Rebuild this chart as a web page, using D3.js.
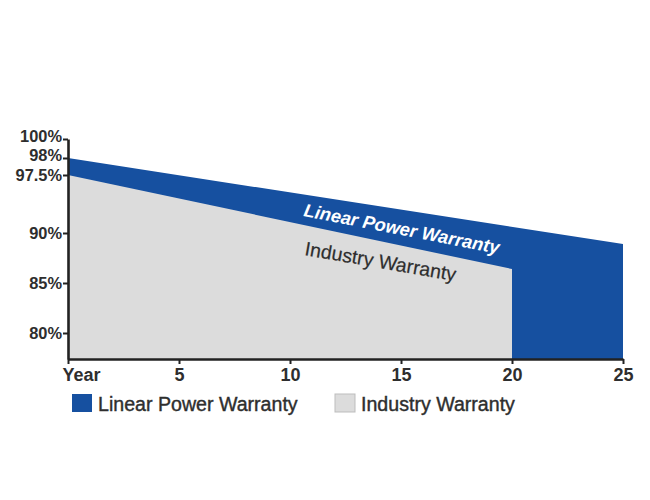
<!DOCTYPE html>
<html>
<head>
<meta charset="utf-8">
<script src="https://cdn.jsdelivr.net/npm/d3@7"></script>
<style>
  html, body { margin: 0; padding: 0; background: #fff; }
  svg { display: block; }
</style>
</head>
<body>
<svg id="chart" width="650" height="500"></svg>
<script>
// ---- data ----
const linearYears = [0, 25];
const linearValues = [98, 88.9];
const industryYears = [0, 20];
const industryValues = [97.5, 86.4];
const yTickValues = [100, 98, 97.5, 90, 85, 80];
const yTickLabels = ["100%", "98%", "97.5%", "90%", "85%", "80%"];
const xTickValues = [0, 5, 10, 15, 20, 25];
const xTickLabels = ["Year", "5", "10", "15", "20", "25"];
const seriesNames = ["Linear Power Warranty", "Industry Warranty"];

// ---- styles ----
const BLUE = "#1650a0";
const GRAY = "#dcdcdc";
const INK = "#2e2e2e";
const FONT = "'Liberation Sans', Arial, sans-serif";

const svg = d3.select("#chart");

// infographic-style y scale: spread at the top for the labels
const y = d3.scaleLinear()
  .domain([77.4, 90, 97.5, 98, 100])
  .range([359, 233, 175, 158, 139]);
const x = d3.scaleLinear().domain([0, 25]).range([68, 623]);

const area = d3.area()
  .x(d => x(d[0]))
  .y0(y(77.4))
  .y1(d => y(d[1]));

const linearData = linearYears.map((yr, i) => [yr, linearValues[i]]);
const industryData = industryYears.map((yr, i) => [yr, industryValues[i]]);

svg.append("path").datum(linearData).attr("d", area).attr("fill", BLUE);
svg.append("path").datum(industryData).attr("d", area).attr("fill", GRAY);

// y axis
const yLabelShift = [-2.5, -3, 0, 0, 0, 0];
const yAxis = svg.append("g")
  .attr("transform", `translate(${x(0)},0)`)
  .call(d3.axisLeft(y).tickValues(yTickValues)
    .tickFormat((d, i) => yTickLabels[i])
    .tickSize(5).tickSizeOuter(0).tickPadding(1));
yAxis.select(".domain").attr("stroke", "#222").attr("stroke-width", 2.6);
yAxis.selectAll(".tick line").attr("stroke", "#222").attr("stroke-width", 2);
yAxis.selectAll(".tick text")
  .attr("fill", INK).attr("font-family", FONT).attr("font-weight", "bold")
  .attr("font-size", 16.4).attr("dy", "0.33em")
  .attr("y", (d, i) => yLabelShift[i]);

// x axis
const xAxis = svg.append("g")
  .attr("transform", `translate(0,${y(77.4)})`)
  .call(d3.axisBottom(x).tickValues(xTickValues)
    .tickFormat((d, i) => xTickLabels[i])
    .tickSize(5).tickSizeOuter(0).tickPadding(4));
xAxis.select(".domain").attr("stroke", "#222").attr("stroke-width", 2.6);
xAxis.selectAll(".tick line").attr("stroke", "#222").attr("stroke-width", 2);
xAxis.selectAll(".tick text")
  .attr("fill", INK).attr("font-family", FONT).attr("font-weight", "bold")
  .attr("font-size", 18)
  .attr("text-anchor", (d, i) => i === 0 ? "start" : "middle")
  .attr("x", (d, i) => i === 0 ? -6 : 0);

// in-chart labels
svg.append("text")
  .attr("transform", `translate(303,216) rotate(11)`)
  .attr("fill", "#fff").attr("font-family", FONT)
  .attr("font-weight", "bold").attr("font-style", "italic")
  .attr("font-size", 18.3)
  .text(seriesNames[0]);
svg.append("text")
  .attr("transform", `translate(304,255) rotate(9.8)`)
  .attr("fill", INK).attr("font-family", FONT)
  .attr("font-size", 19.5)
  .attr("stroke", INK).attr("stroke-width", 0.2)
  .text(seriesNames[1]);

// legend
const legend = svg.append("g").attr("transform", "translate(72,394)");
const legendItems = [
  { name: seriesNames[0], fill: BLUE, stroke: "none", x: 0 },
  { name: seriesNames[1], fill: GRAY, stroke: "#bdbdbd", x: 263 }
];
const li = legend.selectAll("g").data(legendItems).join("g")
  .attr("transform", d => `translate(${d.x},0)`);
li.append("rect").attr("width", 20).attr("height", 18)
  .attr("fill", d => d.fill).attr("stroke", d => d.stroke);
li.append("text").attr("x", 26).attr("y", 17)
  .attr("fill", INK).attr("font-family", FONT).attr("font-size", 19.6)
  .attr("stroke", INK).attr("stroke-width", 0.4)
  .text(d => d.name);
</script>
</body>
</html>
